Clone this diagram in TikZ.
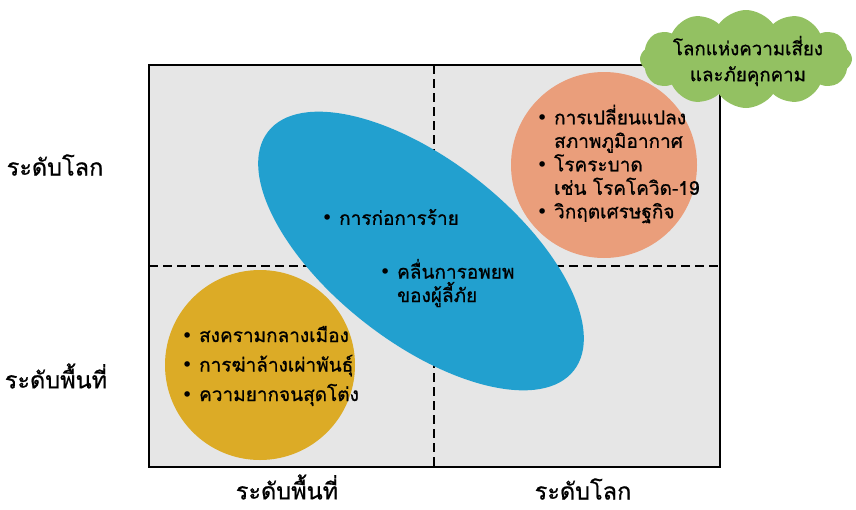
\documentclass[tikz,border=0pt]{standalone}
\usepackage{fontspec}
\newfontfamily\thai[Script=Thai, FakeBold=0.8]{Loma}
\newfontfamily\simbolo{DejaVu Sans}
\usetikzlibrary{shapes.symbols}
\definecolor{fondo}{HTML}{E6E6E6}
\definecolor{azul}{HTML}{22A0CF}
\definecolor{naranja}{HTML}{EA9E7B}
\definecolor{oro}{HTML}{DCAB26}
\definecolor{verde}{HTML}{93C162}
\newcommand{\pto}{{\simbolo\char"2022}}
\newcommand{\sangria}{\phantom{\pto\ }}
\begin{document}
\begin{tikzpicture}[x=1pt,y=-1pt]
\tikzset{
    etiqueta/.style={text centered, font=\thai\fontsize{23.5}{28}\selectfont},
    lista/.style={align=left, anchor=west, font=\thai\fontsize{19}{23.5}\selectfont},
    divisoria/.style={dash pattern=on 9pt off 5pt, line width=2.4pt}
}
\useasboundingbox (0,0) rectangle (856,509);
\fill[fill=fondo] (149,65) rectangle (720,467);
\draw[divisoria] (434,65) -- (434,467);
\draw[divisoria] (149,266) -- (720,266);
\draw[line width=2.5pt] (149,65) rectangle (720,467);
\fill[fill=azul, rotate around={-38:(421,251)}] (421,251) ellipse [x radius=194, y radius=91];
\fill[fill=naranja] (604,165) circle [radius=93];
\fill[fill=oro] (260,365) circle [radius=95];
\node[cloud, cloud puffs=12, cloud puff arc=110, aspect=2.2, fill=verde, minimum width=212pt, minimum height=98pt] (nube) at (746,59) {};
\node[etiqueta, font=\thai\fontsize{18.7}{26}\selectfont, align=center] (riesgo) at (748,61) {โลกแห่งความเสี่ยง\\และภัยคุกคาม};
\node[etiqueta] (izqglobal) at (55,165) {ระดับโลก};
\node[etiqueta] (izqlocal) at (56,376) {ระดับพื้นที่};
\node[etiqueta] (abjlocal) at (287,487) {ระดับพื้นที่};
\node[etiqueta] (abjglobal) at (583,489) {ระดับโลก};
\node[lista] (terror) at (318,217) {\pto\ การก่อการร้าย};
\node[lista] (refugio) at (376,283) {\pto\ คลื่นการอพยพ\\\sangria ของผู้ลี้ภัย};
\node[lista] (global) at (533,164) {\pto\ การเปลี่ยนแปลง\\\sangria สภาพภูมิอากาศ\\\pto\ โรคระบาด\\\sangria เช่น โรคโควิด-19\\\pto\ วิกฤตเศรษฐกิจ};
\node[lista, font=\thai\fontsize{19}{29.5}\selectfont] (local) at (178,366) {\pto\ สงครามกลางเมือง\\\pto\ การฆ่าล้างเผ่าพันธุ์\\\pto\ ความยากจนสุดโต่ง};
\end{tikzpicture}
\end{document}
